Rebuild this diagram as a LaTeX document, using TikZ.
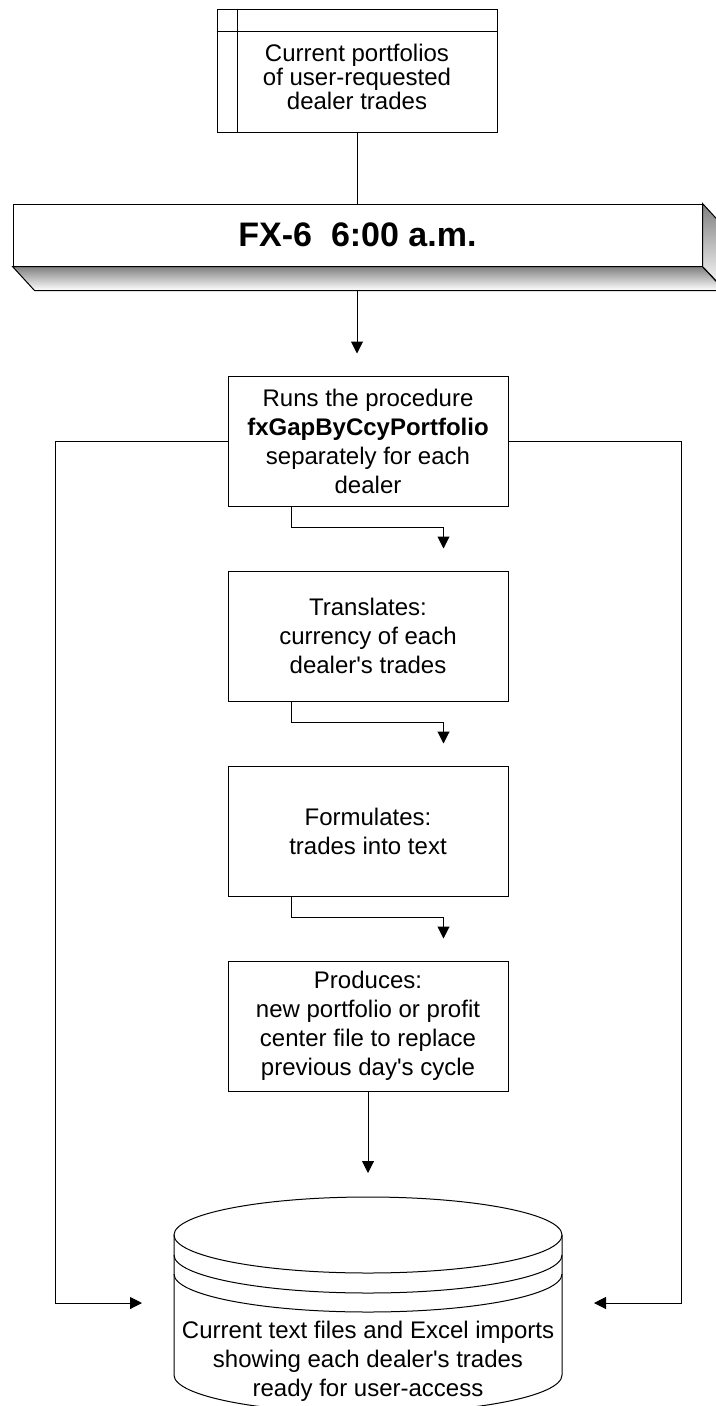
\documentclass[tikz,border=0pt]{standalone}
\usepackage{fontspec}
\setmainfont{Liberation Sans}
\usetikzlibrary{positioning,arrows.meta,calc}
\definecolor{shade}{HTML}{C0C0C0}

\tikzset{
  stepbox/.style={draw, line width=0.75pt, minimum width=210pt, minimum height=97.5pt,
    align=center, font=\fontsize{18}{21.75}\selectfont},
  flow/.style={-{Triangle[length=9pt,width=9pt]}, line width=0.75pt, shorten >=16.5pt},
  elbow/.style={flow, rounded corners=0pt},
}

\begin{document}
\begin{tikzpicture}[x=0.75pt, y=-0.75pt, line width=0.75pt]
    \useasboundingbox (0,0) rectangle (716,1406);
    \clip (0,0) rectangle (716,1406);
    \fill [white] (0,0) rectangle (716,1406);

    \node [draw, minimum width=210pt, minimum height=92.25pt] (ports) at (357,70.5) {};
    \draw ([xshift=15.75pt]ports.north west) -- ([xshift=15.75pt]ports.south west);
    \draw ([yshift=-17.25pt]ports.north west) -- ([yshift=-17.25pt]ports.north east);
    \node [align=center, font=\fontsize{18}{16.5}\selectfont] (portstext) at (357,77)
      {Current portfolios\\of user-requested\\dealer trades};

    \node [draw, minimum width=516.75pt, minimum height=46.5pt, font=\fontsize{25.5}{30}\selectfont\bfseries]
      (banner) at (357.5,235) {FX-6~~6:00 a.m.};

    \node [stepbox] (runs) at (368,441)
      {Runs the procedure\\\textbf{fxGapByCcyPortfolio}\\separately for each\\dealer};
    \node [stepbox, below=48pt of runs] (trans)
      {Translates:\\currency of each\\dealer\textquotesingle s trades};
    \node [stepbox, below=48pt of trans] (form) {Formulates:\\trades into text};
    \node [stepbox, below=48pt of form] (prod)
      {Produces:\\new portfolio or profit\\center file to replace\\previous day\textquotesingle s cycle};

    \coordinate (dbtop) at (368,1197);
    \coordinate (dbl) at (174,1303);
    \coordinate (dbr) at (562,1303);

    \draw (ports.south) -- (ports.south |- banner.north);
    \draw [flow] (ports.south |- banner.south) -- (ports.south |- runs.north);
    \fill [shade, draw=black] (banner.south west) -- (banner.south east) -- ++(22,24)
      -- ($(banner.south west)+(22,24)$) -- cycle;
    \fill [shade, draw=black] (banner.north east) -- ++(22,24) -- ++(0,62)
      -- (banner.south east) -- cycle;

    \draw [elbow] ([xshift=48pt]runs.south west) -- ++(0,21) -| ([xshift=-48.75pt]trans.north east);
    \draw [elbow] ([xshift=48pt]trans.south west) -- ++(0,21) -| ([xshift=-48.75pt]form.north east);
    \draw [elbow] ([xshift=48pt]form.south west) -- ++(0,21) -| ([xshift=-48.75pt]prod.north east);
    \draw [flow, shorten >=18pt] (prod.south) -- (dbtop);

    \draw [flow, shorten >=24pt] (runs.west) -- ++(-172,0) |- (dbl);
    \draw [flow, shorten >=24pt] (runs.east) -- ++(173,0) |- (dbr);

    \fill [white] (174,1235) -- (174,1375) arc [start angle=180, end angle=0, x radius=194, y radius=38]
      -- (562,1235) arc [start angle=0, end angle=180, x radius=194, y radius=-38] -- cycle;
    \draw (174,1235) -- (174,1375) arc [start angle=180, end angle=0, x radius=194, y radius=38]
      -- (562,1235);
    \draw (368,1235) ellipse [x radius=194, y radius=38];
    \draw (174,1255) arc [start angle=180, end angle=0, x radius=194, y radius=38];
    \draw (174,1274) arc [start angle=180, end angle=0, x radius=194, y radius=38];
    \node [align=center, font=\fontsize{18}{21.75}\selectfont] (store) at (368,1361)
      {Current text files and Excel imports\\showing each dealer\textquotesingle s trades\\ready for user-access};
\end{tikzpicture}
\end{document}
